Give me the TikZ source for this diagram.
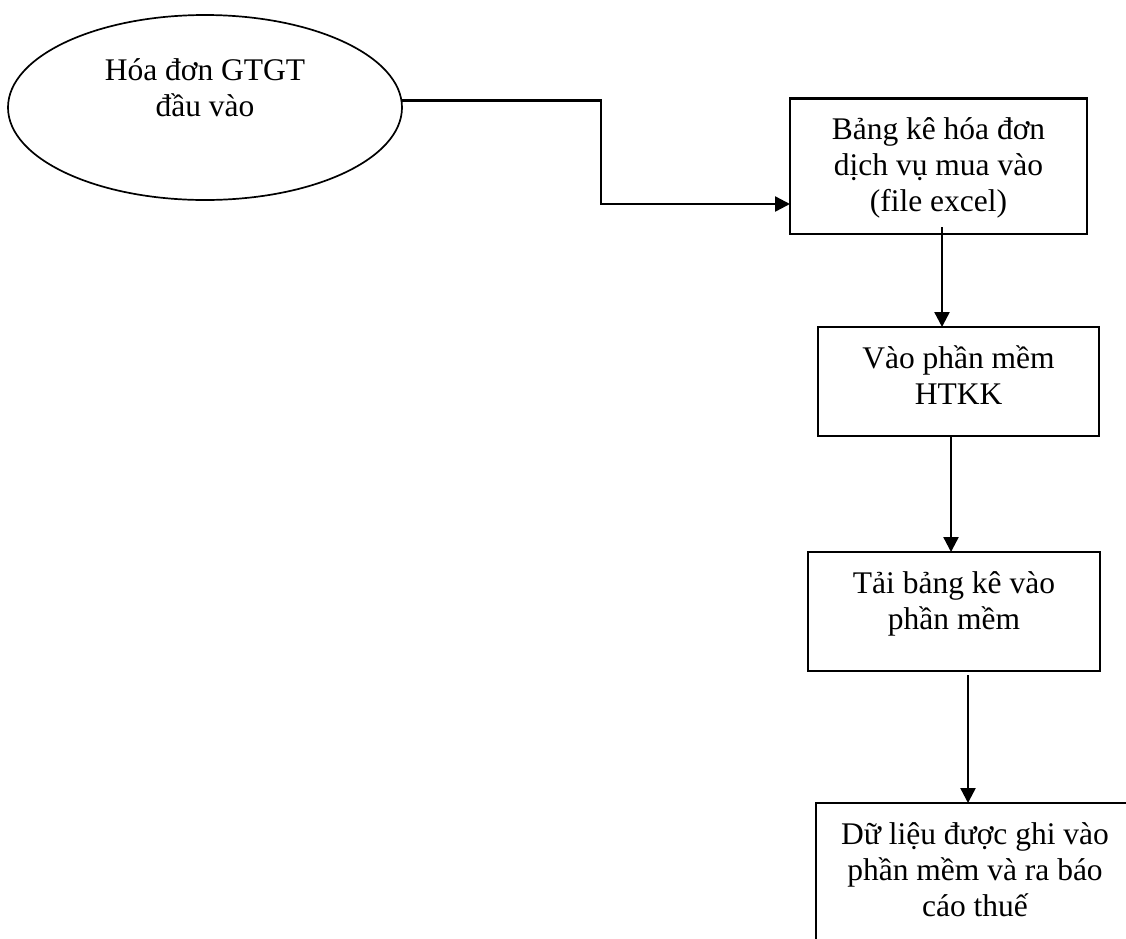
\documentclass[tikz,border=0pt]{standalone}
\usepackage{fontspec}
\setmainfont{Liberation Serif}
\usetikzlibrary{shapes.geometric,arrows.meta,calc}
\newcommand{\boxtxt}[3]{\parbox[t][#2][t]{#1}{\centering\rule{0pt}{41pt}#3}}
\begin{document}
\begin{tikzpicture}[x=1pt,y=-1pt,
  font=\fontsize{31.5}{36}\selectfont,
  stepbox/.style={draw, line width=2.3pt, inner sep=0pt, outer sep=0pt, anchor=north west},
  oval/.style={draw, ellipse, line width=1.7pt, inner sep=0pt, minimum width=394pt, minimum height=185pt},
  arrow/.style={line width=2.4pt, -{Triangle[length=15pt,width=15pt]}}]
\useasboundingbox (0,0) rectangle (1126,938);
\clip (0,0) rectangle (1126,938);
\node[oval] (e) at (205,107.5) {};
\node[inner sep=0pt, anchor=north] (et) at (205,15) {\parbox[t]{330pt}{\centering\rule{0pt}{65pt}Hóa đơn GTGT\\đầu vào}};
\node[stepbox] (b1) at (790,98.5) {\boxtxt{297pt}{135.5pt}{Bảng kê hóa đơn\\dịch vụ mua vào\\(file excel)}};
\node[stepbox] (b2) at (818,327) {\boxtxt{281pt}{109pt}{Vào phần mềm\\HTKK}};
\node[stepbox] (b3) at (808,552) {\boxtxt{292pt}{119pt}{Tải bảng kê vào\\phần mềm}};
\node[stepbox] (b4) at (816,803) {\boxtxt{318pt}{160pt}{Dữ liệu được ghi vào\\phần mềm và ra báo\\cáo thuế}};
\coordinate (k1) at (601,204);
\coordinate (c1) at (942,0);
\coordinate (c2) at (951,0);
\coordinate (c3) at (968,0);
\draw[arrow] (e.2.8) -| (k1) -- (b1.west |- k1);
\draw[arrow] ($(b1.south -| c1)+(0,-7)$) -- (b2.north -| c1);
\draw[arrow] (b2.south -| c2) -- (b3.north -| c2);
\draw[arrow] ($(b3.south -| c3)+(0,4)$) -- (b4.north -| c3);
\end{tikzpicture}
\end{document}
